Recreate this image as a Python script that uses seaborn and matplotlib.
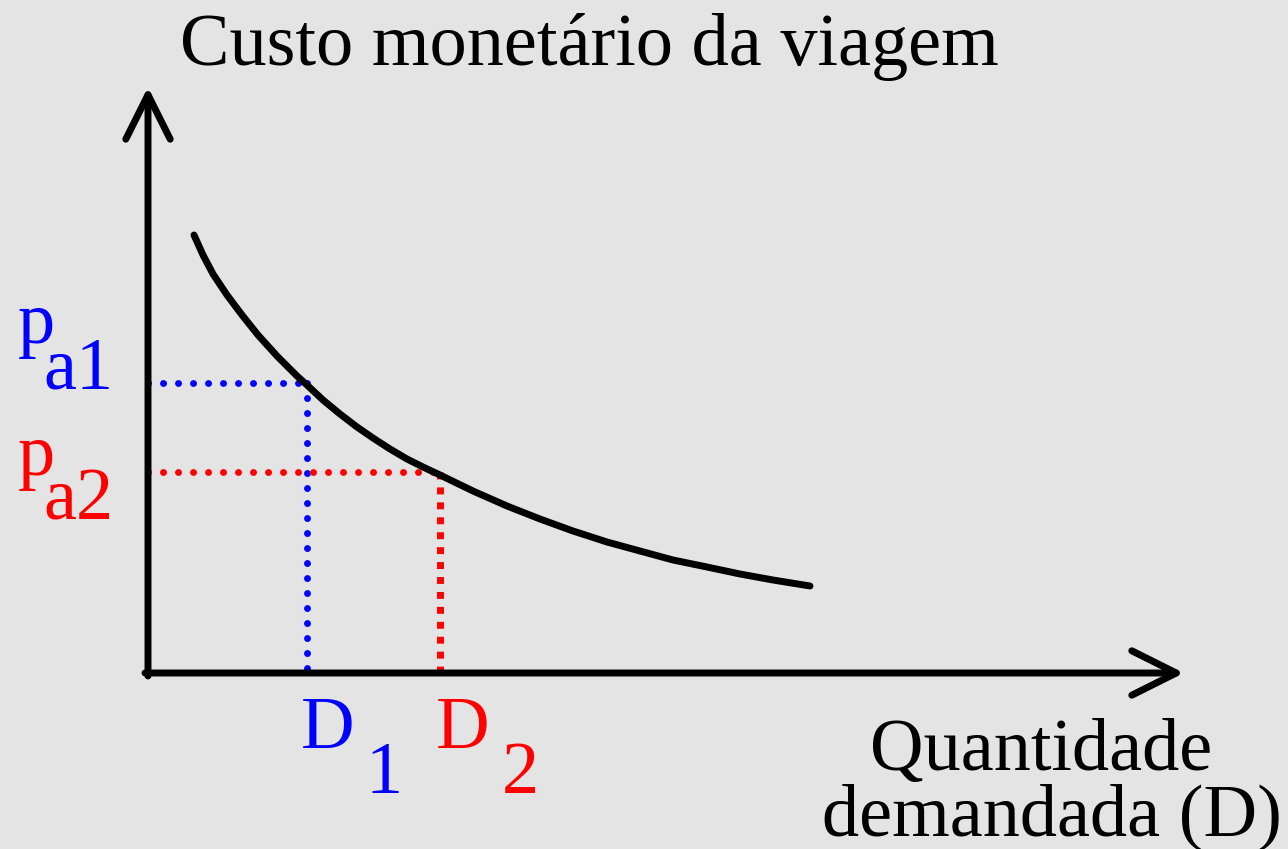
import numpy as np
import pandas as pd
import matplotlib
matplotlib.use("Agg")
import matplotlib.pyplot as plt
import seaborn as sns

# Curva de demanda
quantidade = [0.46, 0.55, 0.65, 0.79, 0.94, 1.10, 1.29, 1.49, 1.59, 1.75, 1.92, 2.09, 2.25, 2.42,
              2.59, 2.75, 2.92, 3.25, 3.59, 3.92, 4.25, 4.59, 4.92, 5.25, 5.59, 5.92, 6.25, 6.62]
custo = [4.38, 4.18, 3.99, 3.78, 3.58, 3.38, 3.17, 2.97, 2.88, 2.73, 2.59, 2.46, 2.35, 2.24,
         2.14, 2.06, 1.98, 1.82, 1.67, 1.54, 1.42, 1.31, 1.22, 1.13, 1.06, 0.99, 0.93, 0.87]

# Pontos destacados
p_a1, D1 = 2.90, 1.59
p_a2, D2 = 2.01, 2.92

cor1 = "#0000ff"
cor2 = "#ff0000"
fundo = "#e4e4e4"

sns.set_theme(style="white")
plt.rcParams['font.family'] = ['Liberation Serif', 'DejaVu Serif']
plt.rcParams['text.color'] = 'black'

df = pd.DataFrame({'D': quantidade, 'custo': custo})

fig = plt.figure(figsize=(12.88, 8.49), dpi=100)
fig.patch.set_facecolor(fundo)
ax = fig.add_axes([0, 0, 1, 1])
ax.set_facecolor(fundo)

# Eixos com setas abertas
seta = dict(arrowstyle='->,head_length=1.6,head_width=0.8', lw=5, color='black',
            mutation_scale=20, shrinkA=0, shrinkB=0)
ax.annotate('', xy=(0, 5.86), xytext=(0, -0.03), arrowprops=seta)
ax.annotate('', xy=(10.36, 0), xytext=(-0.03, 0), arrowprops=seta)

# Linhas guia pontilhadas
pont = dict(lw=5, ls=(0, (0.01, 2.15)), dash_capstyle='round')
ax.plot([0, D1], [p_a1, p_a1], color=cor1, **pont)
ax.plot([D1, D1], [p_a1, 0], color=cor1, **pont)
ax.plot([0, D2], [p_a2, p_a2], color=cor2, **pont)
ax.plot([D2, D2], [p_a2, 0], color=cor2, lw=5, ls=(0, (1, 1.15)), dash_capstyle='butt')

# Curva
sns.lineplot(data=df, x='D', y='custo', sort=False, color='black', lw=5, ax=ax)
ax.lines[-1].set_solid_joinstyle('round')
ax.set_xlim(-1.48, 11.40)
ax.set_ylim(-1.76, 6.73)
ax.axis('off')

fs = 53.5
ax.text(0.32, 6.08, 'Custo monetário da viagem', fontsize=fs, va='baseline', ha='left')
ax.text(7.22, -0.97, 'Quantidade', fontsize=fs, va='baseline', ha='left')
ax.text(6.74, -1.62, 'demandada (D)', fontsize=fs, va='baseline', ha='left')

ax.text(-1.30, 3.30, 'p', fontsize=fs, color=cor1, va='baseline', ha='left')
ax.text(-1.05, 2.85, 'a1', fontsize=fs, color=cor1, va='baseline', ha='left')
ax.text(-1.30, 1.98, 'p', fontsize=fs, color=cor2, va='baseline', ha='left')
ax.text(-1.05, 1.53, 'a2', fontsize=fs, color=cor2, va='baseline', ha='left')

ax.text(D1 - 0.06, -0.75, 'D', fontsize=fs, color=cor1, va='baseline', ha='left')
ax.text(D1 + 0.58, -1.20, '1', fontsize=fs, color=cor1, va='baseline', ha='left')
ax.text(D2 - 0.04, -0.75, 'D', fontsize=fs, color=cor2, va='baseline', ha='left')
ax.text(D2 + 0.62, -1.20, '2', fontsize=fs, color=cor2, va='baseline', ha='left')

fig.savefig('out.png', dpi=100, facecolor=fundo)
